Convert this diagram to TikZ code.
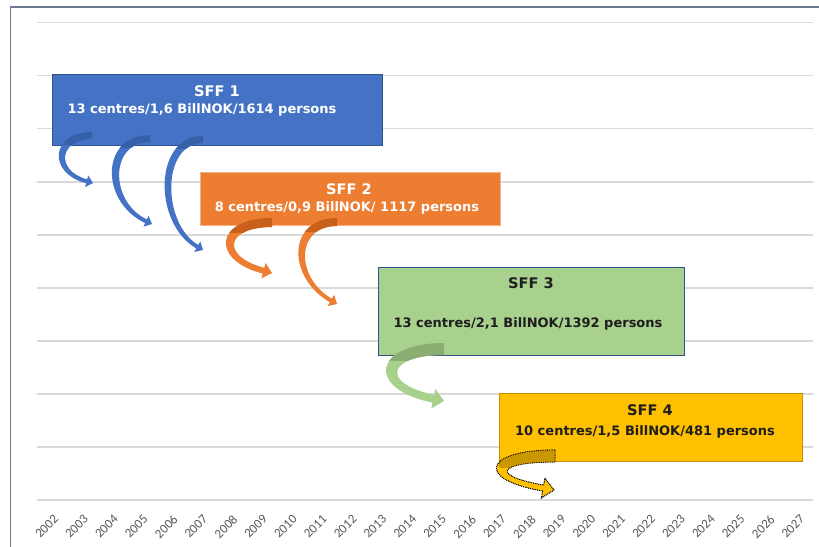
\documentclass[tikz,border=0pt]{standalone}
\usepackage{fontspec}
\usetikzlibrary{calc}
\newfontfamily\dvs{DejaVu Sans}
\newfontfamily\carl{Carlito}
\definecolor{sffblue}{HTML}{4472C4}
\definecolor{sffbluedk}{HTML}{3660A8}
\definecolor{sffblueedge}{HTML}{2F528F}
\definecolor{sfforange}{HTML}{ED7D31}
\definecolor{sfforangedk}{HTML}{C8601C}
\definecolor{sfforangeedge}{HTML}{F4B183}
\definecolor{sffgreen}{HTML}{A9D18E}
\definecolor{sffgreendk}{HTML}{8AAE72}
\definecolor{sffgold}{HTML}{FFC000}
\definecolor{sffgolddk}{HTML}{C99700}
\definecolor{sffgoldedge}{HTML}{BF9000}
\definecolor{gridgrey}{HTML}{D9D9D9}
\definecolor{framegrey}{HTML}{6B7A8C}
\definecolor{yeargrey}{HTML}{595959}
\definecolor{darktext}{HTML}{1E1E1E}
\newcommand\ahw{6}
% #1 main style, #2 dark colour, #3 start (top), #4 start width, #5 tip,
% #6 head angle, #7 outer control length, #8 inner control length, #9 end width
\newcommand\CArrow[9]{%
  \pgfmathsetmacro\angb{#6+180}%
  \pgfmathsetmacro\ango{#6+90}%
  \pgfmathsetmacro\angi{#6-90}%
  \pgfmathsetmacro\hlen{1.1*\ahw}%
  \pgfmathsetmacro\hwe{#9/2}%
  \coordinate (A) at (#3);
  \coordinate (B) at ($(A)+(0,#4)$);
  \coordinate (T) at (#5);
  \coordinate (Hc) at ($(T)+(\angb:\hlen)$);
  \coordinate (Eo) at ($(Hc)+(\ango:\hwe)$);
  \coordinate (Ei) at ($(Hc)+(\angi:\hwe)$);
  \coordinate (Ho) at ($(Hc)+(\ango:\ahw)$);
  \coordinate (Hi) at ($(Hc)+(\angi:\ahw)$);
  \coordinate (C1) at ($(A)+(-#7,0)$);
  \coordinate (C2) at ($(Eo)+(\angb:#7)$);
  \coordinate (C3) at ($(Ei)+(\angb:#8)$);
  \coordinate (C4) at ($(B)+(-#8,0)$);
  \fill[#1] (A) .. controls (C1) and (C2) .. (Eo) -- (Ho) -- (T) -- (Hi) -- (Ei)
     .. controls (C3) and (C4) .. (B) -- cycle;
  \begin{scope}
    \clip ($(A)+({-0.8*#7},-3)$) rectangle ($(A)+(3,{#4+5})$);
    \fill[#2] (A) .. controls (C1) and (C2) .. (Eo) -- (Ho) -- (T) -- (Hi) -- (Ei)
       .. controls (C3) and (C4) .. (B) -- cycle;
  \end{scope}
  \path[#1,fill=none] (A) .. controls (C1) and (C2) .. (Eo) -- (Ho) -- (T) -- (Hi) -- (Ei)
     .. controls (C3) and (C4) .. (B) -- cycle;
}
\tikzset{
  gridline/.style={gridgrey, line width=1.4pt},
  frameline/.style={framegrey, line width=1.5pt},
  box/.style={rectangle, inner sep=0pt, anchor=north west, line width=1pt},
  titletext/.style={font=\dvs\bfseries\fontsize{14.6}{16}\selectfont, inner sep=0pt},
  subtext/.style={font=\dvs\bfseries\fontsize{13}{15}\selectfont, inner sep=0pt},
  yearlabel/.style={font=\carl\fontsize{13}{14}\selectfont, text=yeargrey, rotate=45, anchor=north east, inner sep=0pt},
}
\begin{document}
\begin{tikzpicture}[x=1pt,y=-1pt]
\useasboundingbox (0,0) rectangle (819,546);
\fill[white] (0,0) rectangle (819,546);
% grid
\foreach \i in {0,...,9}{
  \draw[gridline] (37,{22.7+53.04*\i}) -- (813,{22.7+53.04*\i});
}
% frame
\draw[frameline] (10.5,547) -- (10.5,7) -- (820,7);
% years
\foreach \i in {0,...,25}{
  \pgfmathtruncatemacro\yr{2002+\i}
  \node[yearlabel] (y\yr) at ({53+29.85*\i},514) {\yr};
}
% boxes
\node[box, fill=sffblue, draw=sffblueedge, minimum width=330pt, minimum height=71pt] (sff1) at (52,74) {};
\node[box, fill=sfforange, draw=sfforangeedge, minimum width=300pt, minimum height=53pt] (sff2) at (200,172) {};
\node[box, fill=sffgreen, draw=sffblueedge, minimum width=306pt, minimum height=88pt] (sff3) at (378,267) {};
\node[box, fill=sffgold, draw=sffgoldedge, line width=0.8pt, minimum width=303pt, minimum height=68pt] (sff4) at (499,393) {};
% texts
\node[titletext, text=white] (t1) at (217,91.5) {SFF 1};
\node[subtext, text=white] (s1) at (202,110) {13 centres/1,6 BillNOK/1614 persons};
\node[titletext, text=white] (t2) at (349,189) {SFF 2};
\node[subtext, text=white] (s2) at (347,207.5) {8 centres/0,9 BillNOK/ 1117 persons};
\node[titletext, text=darktext] (t3) at (531,283) {SFF 3};
\node[subtext, text=darktext] (s3) at (528,324) {13 centres/2,1 BillNOK/1392 persons};
\node[titletext, text=darktext] (t4) at (650,410) {SFF 4};
\node[subtext, text=darktext] (s4) at (645,432) {10 centres/1,5 BillNOK/481 persons};
% curved arrows
\renewcommand\ahw{6}
\CArrow{fill=sffblue}{sffbluedk}{92,132}{7}{93,183}{15}{41}{33}{4}
\CArrow{fill=sffblue}{sffbluedk}{150,135}{7}{152,224}{25}{50}{41}{4}
\CArrow{fill=sffblue}{sffbluedk}{203,136}{7}{203,250}{30}{50}{42}{4}
\renewcommand\ahw{8}
\CArrow{fill=sfforange}{sfforangedk}{272,218}{9}{272,273}{15}{56}{46}{6}
\renewcommand\ahw{6.5}
\CArrow{fill=sfforange}{sfforangedk}{337,218}{8}{337,304}{30}{50}{42}{4}
\renewcommand\ahw{10}
\CArrow{fill=sffgreen}{sffgreendk}{444,343}{12}{444,401}{12}{70}{56}{8}
\CArrow{fill=sffgold, draw=black, densely dotted, line width=0.8pt}{sffgolddk}{555,450}{12}{554,490}{10}{70}{56}{6}
\end{tikzpicture}
\end{document}
